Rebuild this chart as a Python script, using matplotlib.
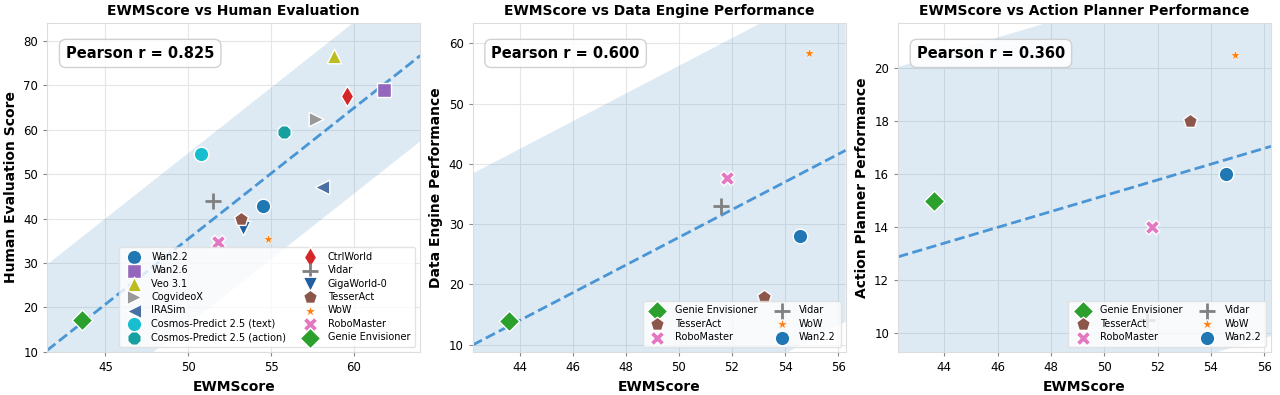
import matplotlib
matplotlib.use("Agg")
import matplotlib.pyplot as plt
import numpy as np

# panel 1: human evaluation
models_h = ["Wan2.2", "Wan2.6", "Veo 3.1", "CogvideoX", "IRASim",
            "Cosmos-Predict 2.5 (text)", "Cosmos-Predict 2.5 (action)",
            "CtrlWorld", "Vidar", "GigaWorld-0", "TesserAct", "WoW",
            "RoboMaster", "Genie Envisioner"]
ewm_h = [54.5, 61.8, 58.8, 57.7, 58.1, 50.8, 55.8, 59.6, 51.5, 53.3, 53.2, 54.8, 51.8, 43.6]
human = [42.8, 68.9, 76.5, 62.3, 47.0, 54.6, 59.5, 67.6, 44.0, 37.8, 40.0, 35.3, 34.7, 17.2]

# panel 2 / 3
models_p = ["Genie Envisioner", "TesserAct", "RoboMaster", "Vidar", "WoW", "Wan2.2"]
ewm_p = [43.6, 53.2, 51.8, 51.6, 54.9, 54.55]
data_engine = [14.0, 18.0, 37.7, 33.0, 58.4, 28.0]
planner = [15.0, 18.0, 14.0, 10.5, 20.5, 16.0]

style = {
    "Wan2.2": ("o", "#1f77b4", 110),
    "Wan2.6": ("s", "#9467bd", 110),
    "Veo 3.1": ("^", "#bcbd22", 110),
    "CogvideoX": (">", "#999999", 110),
    "IRASim": ("<", "#4a6fa5", 110),
    "Cosmos-Predict 2.5 (text)": ("o", "#17becf", 110),
    "Cosmos-Predict 2.5 (action)": ("8", "#17a0a0", 110),
    "CtrlWorld": ("d", "#d62728", 110),
    "Vidar": ("+", "#808080", 130),
    "GigaWorld-0": ("v", "#1f5f9f", 110),
    "TesserAct": ("p", "#8c564b", 110),
    "WoW": ("*", "#ff7f0e", 60),
    "RoboMaster": ("X", "#e377c2", 110),
    "Genie Envisioner": ("D", "#2ca02c", 110),
}

plt.rcParams["font.family"] = "DejaVu Sans"
fig, axes = plt.subplots(1, 3, figsize=(12.8, 3.95), dpi=100)
fig.subplots_adjust(left=0.037, right=0.993, top=0.942, bottom=0.109, wspace=0.141)


def panel(ax, names, xs, ys, title, ylabel, xlim, ylim, xticks, yticks, legsize):
    xs = np.array(xs)
    ys = np.array(ys)
    ax.set_axisbelow(True)
    ax.grid(True, color="#e6e6e6", lw=0.8)
    slope, icpt = np.polyfit(xs, ys, 1)
    r = np.corrcoef(xs, ys)[0, 1]
    res = ys - (slope * xs + icpt)
    s = np.sqrt(np.sum(res**2) / (len(xs) - 2))
    xx = np.linspace(xlim[0], xlim[1], 100)
    yy = slope * xx + icpt
    ax.fill_between(xx, yy - 2 * s, yy + 2 * s, color="#1f77b4", alpha=0.15, lw=0, zorder=1)
    ax.plot(xx, yy, "--", color="#2f86d0", lw=2, alpha=0.85, zorder=2)
    for n, x, y in zip(names, xs, ys):
        m, c, sz = style[n]
        if m == "+":
            ax.scatter(x, y, marker=m, color=c, s=sz, linewidths=2, label=n, zorder=3)
        elif m == "*":
            ax.scatter(x, y, marker=m, color=c, s=sz, edgecolors="white", linewidths=0.4, label=n, zorder=3)
        else:
            ax.scatter(x, y, marker=m, color=c, s=sz, edgecolors="white", linewidths=1, label=n, zorder=3)
    ax.text(0.05, 0.93, f"Pearson r = {r:.3f}", transform=ax.transAxes, fontsize=10.5,
            fontweight="bold", va="top", ha="left",
            bbox=dict(boxstyle="round,pad=0.45", fc="white", ec="#cccccc", alpha=0.9))
    ax.set_title(title, fontsize=10, fontweight="bold")
    ax.set_xlabel("EWMScore", fontsize=10, fontweight="bold")
    ax.set_ylabel(ylabel, fontsize=10, fontweight="bold")
    ax.set_xlim(xlim)
    ax.set_ylim(ylim)
    ax.set_xticks(xticks)
    ax.set_yticks(yticks)
    ax.tick_params(labelsize=8.5, length=3, color="#888888")
    for sp in ax.spines.values():
        sp.set_color("#dddddd")
    ax.legend(loc="lower right", ncol=2, fontsize=legsize, framealpha=0.8,
              handletextpad=0.8, columnspacing=1.5, labelspacing=0.35,
              borderpad=0.5, edgecolor="#dddddd")


panel(axes[0], models_h, ewm_h, human, "EWMScore vs Human Evaluation", "Human Evaluation Score",
      (41.5, 64.0), (10, 84), [45, 50, 55, 60], range(10, 81, 10), 7)
panel(axes[1], models_p, ewm_p, data_engine, "EWMScore vs Data Engine Performance",
      "Data Engine Performance", (42.23, 56.28), (8.8, 63.4), range(44, 57, 2), range(10, 61, 10), 7)
panel(axes[2], models_p, ewm_p, planner, "EWMScore vs Action Planner Performance",
      "Action Planner Performance", (42.27, 56.25), (9.3, 21.7), range(44, 57, 2), range(10, 21, 2), 7)

fig.savefig("out.png", dpi=100)
